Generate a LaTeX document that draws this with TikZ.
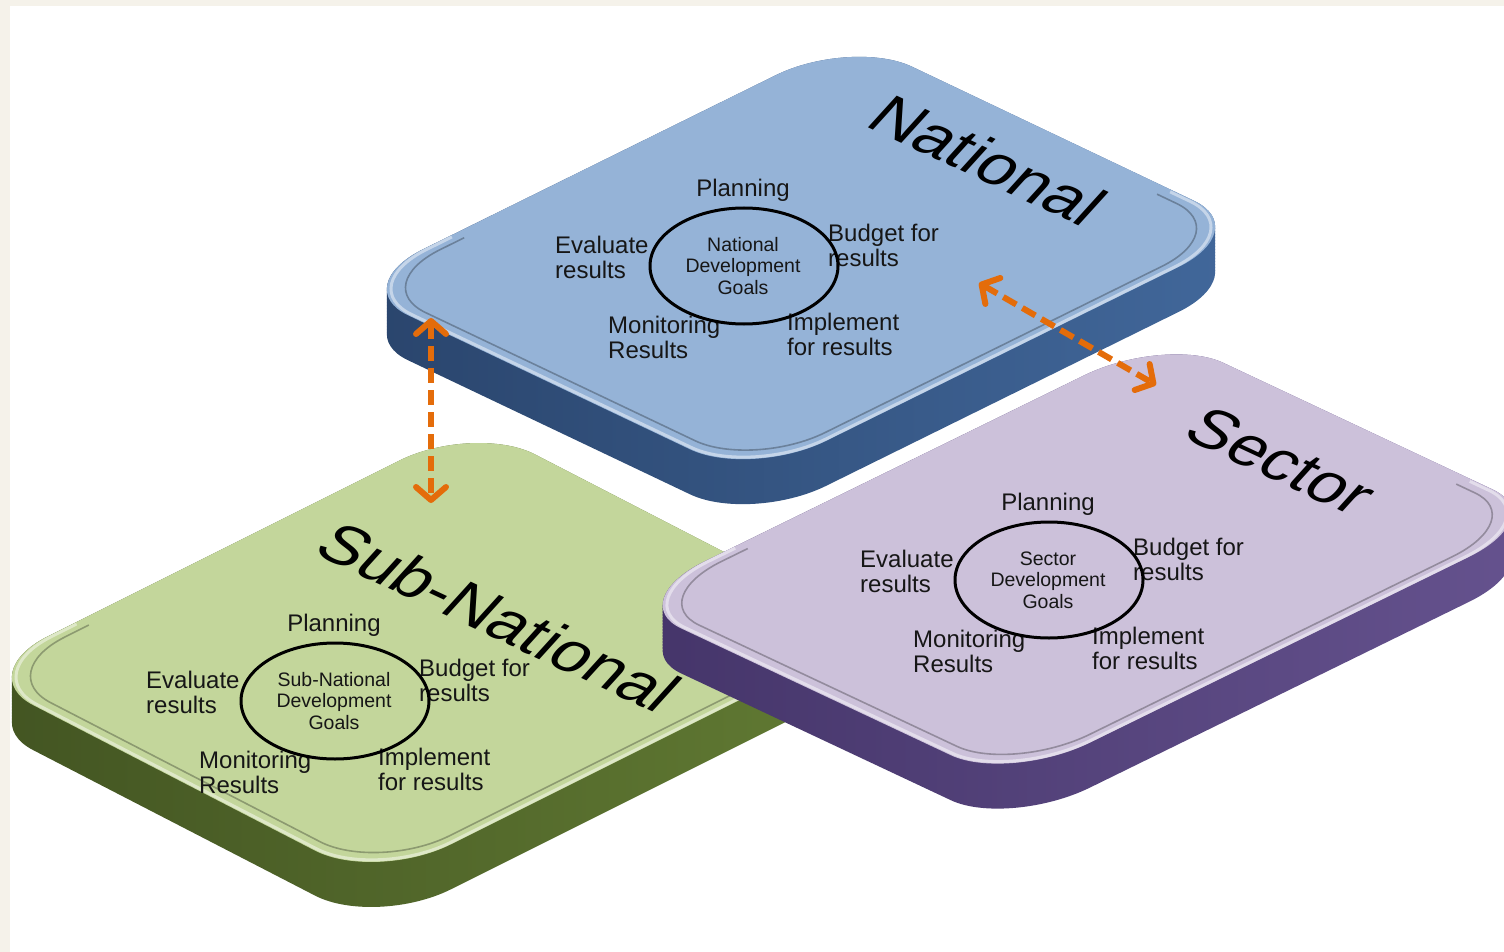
\documentclass[tikz,border=0pt]{standalone}
\usepackage{fontspec}
\setmainfont{Liberation Sans}
\usetikzlibrary{arrows.meta,shapes.geometric}
\definecolor{natface}{HTML}{95B3D7}
\definecolor{natside}{HTML}{41679A}
\definecolor{natsidedark}{HTML}{2A456D}
\definecolor{secface}{HTML}{CCC1DA}
\definecolor{secside}{HTML}{65528E}
\definecolor{secsidedark}{HTML}{45356A}
\definecolor{subface}{HTML}{C3D69B}
\definecolor{subside}{HTML}{617A33}
\definecolor{subsidedark}{HTML}{435522}
\definecolor{arrowor}{HTML}{E46C0A}
\definecolor{cream}{HTML}{F5F2EA}
\definecolor{labeltext}{HTML}{161616}

\newcommand{\rsq}[1]{\path[#1] (-0.7,-1) -- (0.7,-1) .. controls (0.8657,-1) and (1,-0.8657) .. (1,-0.7) -- (1,0.7) .. controls (1,0.8657) and (0.8657,1) .. (0.7,1) -- (-0.7,1) .. controls (-0.8657,1) and (-1,0.8657) .. (-1,0.7) -- (-1,-0.7) .. controls (-1,-0.8657) and (-0.8657,-1) .. (-0.7,-1) -- cycle;}
\newcommand{\rlow}[1]{\path[#1] (-0.6,-1) -- (-0.7,-1) .. controls (-0.8657,-1) and (-1,-0.8657) .. (-1,-0.7) -- (-1,0.7) .. controls (-1,0.8657) and (-0.8657,1) .. (-0.7,1) -- (0.7,1) .. controls (0.8657,1) and (1,0.8657) .. (1,0.7) -- (1,0.6);}

\newcommand{\slabdraw}[3]{% face, side, sidedark
  \foreach \d in {45,42,...,0} {\rsq{shade, left color=#3, right color=#2, yshift=-\d pt}}
  \rsq{fill=#1}
  \rlow{draw=#1!55!white, line width=3pt, scale=0.99}
  \rlow{draw=#1!72!black, line width=1.6pt, scale=0.955}
}

\newcommand{\cyc}[4]{%
 \begin{scope}[shift={(#2,#3)}]
  \node[ctr] (#1g1) at (-1,-17) {#4};
  \node[ctr] (#1g2) at (-1,4) {Development};
  \node[ctr] (#1g3) at (-1,26) {Goals};
  \node[lbl, anchor=mid] (#1plan) at (-1,-72) {Planning};
  \node[lbl] (#1evalA) at (-189,-15) {Evaluate};
  \node[lbl] (#1evalB) at (-189,10) {results};
  \node[lbl] (#1budA) at (84,-27) {Budget for};
  \node[lbl] (#1budB) at (84,-2) {results};
  \node[lbl] (#1monA) at (-136,65) {Monitoring};
  \node[lbl] (#1monB) at (-136,90) {Results};
  \node[lbl] (#1impA) at (43,62) {Implement};
  \node[lbl] (#1impB) at (43,87) {for results};
  \node[goal] (#1goal) at (0,0) {};
 \end{scope}}

\tikzset{
  lbl/.style={anchor=mid west, inner sep=0pt, text=labeltext, font=\fontsize{24}{26}\selectfont},
  ctr/.style={anchor=mid, inner sep=0pt, text=labeltext, font=\fontsize{19.5}{21}\selectfont},
  goal/.style={ellipse, draw=black, line width=3pt, minimum width=188pt, minimum height=116pt, inner sep=0pt},
  biglbl/.style={inner sep=0pt, text=black, font=\fontsize{66}{70}\selectfont, rotate=-25, xslant=0.31, yscale=0.9},
  orarrow/.style={draw=arrowor, line width=6pt, dash pattern=on 15pt off 7pt,
     {Straight Barb[length=13pt,width=30pt,line width=6pt,round]}-{Straight Barb[length=13pt,width=30pt,line width=6pt,round]}}
}

\begin{document}
\begin{tikzpicture}[x=1pt,y=-1pt]
\useasboundingbox (0,0) rectangle (1504,952);
\fill[white] (0,0) rectangle (1504,952);

% Sub-National slab
\begin{scope}[shift={(425,652.5)}, x={(250.8pt,125.4pt)}, y={(201.5pt,-104pt)}]
  \slabdraw{subface}{subside}{subsidedark}
\end{scope}
\node[biglbl] (subtitle) at (499,617) {Sub-National};
\cyc{sub}{335}{701}{Sub-National}

% National slab
\begin{scope}[shift={(801,258)}, x={(251.9pt,124.3pt)}, y={(201.5pt,-95.8pt)}]
  \slabdraw{natface}{natside}{natsidedark}
\end{scope}
\node[biglbl] (nattitle) at (988,160) {National};
\cyc{nat}{744}{266}{National}

% Sector slab
\begin{scope}[shift={(1087,559)}, x={(271pt,132.8pt)}, y={(192.7pt,-90.6pt)}]
  \slabdraw{secface}{secside}{secsidedark}
\end{scope}
\node[biglbl] (sectitle) at (1281,461) {Sector};
\cyc{sec}{1049}{580}{Sector}

% arrows
\coordinate (a1s) at (431,318);
\coordinate (a1e) at (431,503);
\coordinate (a2s) at (979,283);
\coordinate (a2e) at (1156,385);
\draw[orarrow] (a1s) -- (a1e);
\draw[orarrow] (a2s) -- (a2e);

% frame
\fill[cream] (0,0) rectangle (1504,6);
\fill[cream] (0,0) rectangle (10,952);
\end{tikzpicture}
\end{document}
